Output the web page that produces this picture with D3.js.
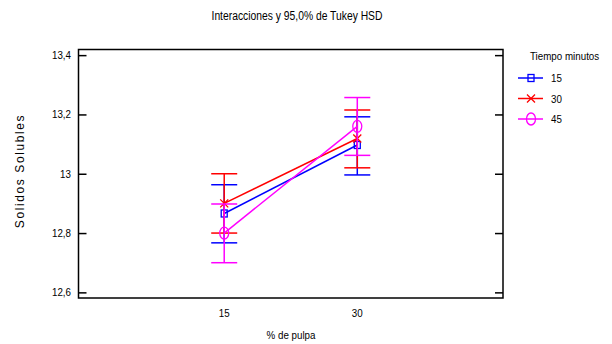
<!DOCTYPE html>
<html>
<head>
<meta charset="utf-8">
<script src="https://cdn.jsdelivr.net/npm/d3@7"></script>
<style>
  html, body { margin: 0; padding: 0; background: #fff; }
  svg { display: block; }
  text { font-family: "Liberation Sans", Arial, sans-serif; fill: #000; }
</style>
</head>
<body>
<svg id="chart" width="612" height="344"></svg>
<script>
// Factor levels and group means with 95% Tukey HSD intervals
const pulpa = ["15", "30"];
const tiempos = ["15", "30", "45"];
const means15 = [12.866, 13.097];
const means30 = [12.900, 13.119];
const means45 = [12.800, 13.160];
const lower15 = [12.767, 12.996];
const upper15 = [12.963, 13.192];
const lower30 = [12.800, 13.020];
const upper30 = [13.000, 13.215];
const lower45 = [12.700, 13.062];
const upper45 = [12.898, 13.257];
const yTicks = [12.6, 12.8, 13.0, 13.2, 13.4];

const series = [
  { name: tiempos[0], mean: means15, lo: lower15, hi: upper15, color: "#0000ff", marker: "square" },
  { name: tiempos[1], mean: means30, lo: lower30, hi: upper30, color: "#ff0000", marker: "cross" },
  { name: tiempos[2], mean: means45, lo: lower45, hi: upper45, color: "#ff00ff", marker: "circle" }
];

const svg = d3.select("#chart");
const plot = { left: 78.5, right: 503, top: 49.5, bottom: 298 };

const x = d3.scalePoint().domain(pulpa).range([plot.left, plot.right]).padding(1.095);
const y = d3.scaleLinear().domain([12.581, 13.419]).range([plot.bottom, plot.top]);

const fmt = d => d3.format(".1f")(d).replace(".", ",").replace(/,0$/, "");

// Condensed lettering: squeeze each label horizontally
function condense(sel, ratio = 0.85) {
  sel.each(function () {
    const len = this.getComputedTextLength();
    d3.select(this).attr("textLength", len * ratio).attr("lengthAdjust", "spacingAndGlyphs");
  });
  return sel;
}

// Title
svg.append("text")
  .attr("x", 297).attr("y", 20)
  .attr("text-anchor", "middle")
  .attr("font-size", 12)
  .text("Interacciones y 95,0% de Tukey HSD")
  .call(condense, 0.86);

// Frame
svg.append("rect")
  .attr("x", plot.left).attr("y", plot.top)
  .attr("width", plot.right - plot.left).attr("height", plot.bottom - plot.top)
  .attr("fill", "none").attr("stroke", "#000").attr("stroke-width", 1.5);

// Y axis ticks on the left and right edges, pointing inward
const leftAxis = d3.axisRight(y).tickValues(yTicks).tickSize(8).tickFormat("");
const rightAxis = d3.axisLeft(y).tickValues(yTicks).tickSize(8).tickFormat("");
[ [leftAxis, plot.left], [rightAxis, plot.right] ].forEach(([ax, xpos]) => {
  const g = svg.append("g").attr("transform", `translate(${xpos},0)`).call(ax);
  g.select(".domain").remove();
  g.selectAll("line").attr("stroke", "#000").attr("stroke-width", 1.5);
});

// Y tick labels
svg.append("g").selectAll("text").data(yTicks).join("text")
  .attr("x", 71).attr("y", d => y(d) + 4)
  .attr("text-anchor", "end")
  .attr("font-size", 11.5)
  .text(fmt)
  .call(condense);

// X tick labels
svg.append("g").selectAll("text").data(pulpa).join("text")
  .attr("x", d => x(d)).attr("y", 317)
  .attr("text-anchor", "middle")
  .attr("font-size", 11.5)
  .text(d => d)
  .call(condense);

// Axis titles
svg.append("text")
  .attr("x", 291).attr("y", 339)
  .attr("text-anchor", "middle")
  .attr("font-size", 11.5)
  .text("% de pulpa")
  .call(condense);

svg.append("text")
  .attr("transform", "translate(24,171) rotate(-90)")
  .attr("text-anchor", "middle")
  .attr("font-size", 12)
  .attr("letter-spacing", 1.6)
  .text("Solidos Solubles");

// Marker drawing
function drawMarker(g, type, cx, cy, color) {
  if (type === "square") {
    g.append("rect").attr("x", cx - 3).attr("y", cy - 3.5).attr("width", 6).attr("height", 7)
      .attr("fill", "none").attr("stroke", color).attr("stroke-width", 1.3);
  } else if (type === "cross") {
    g.append("path").attr("d", `M${cx - 4},${cy - 4}L${cx + 4},${cy + 4}M${cx - 4},${cy + 4}L${cx + 4},${cy - 4}`)
      .attr("stroke", color).attr("stroke-width", 1.3).attr("fill", "none");
  } else {
    g.append("ellipse").attr("cx", cx).attr("cy", cy).attr("rx", 4.5).attr("ry", 6)
      .attr("fill", "none").attr("stroke", color).attr("stroke-width", 1.3);
  }
}

const capHalf = 13;
const line = d3.line().x((d, i) => x(pulpa[i])).y(d => y(d));

series.forEach(s => {
  const g = svg.append("g");
  // Interval bars with caps
  pulpa.forEach((p, i) => {
    const cx = x(p);
    g.append("line").attr("x1", cx).attr("x2", cx).attr("y1", y(s.lo[i])).attr("y2", y(s.hi[i]))
      .attr("stroke", s.color).attr("stroke-width", 1.5);
    [s.lo[i], s.hi[i]].forEach(v => {
      g.append("line").attr("x1", cx - capHalf).attr("x2", cx + capHalf).attr("y1", y(v)).attr("y2", y(v))
        .attr("stroke", s.color).attr("stroke-width", 1.5);
    });
  });
  // Connecting line of means
  g.append("path").datum(s.mean).attr("d", line)
    .attr("fill", "none").attr("stroke", s.color).attr("stroke-width", 1.5);
  // Markers
  pulpa.forEach((p, i) => drawMarker(g, s.marker, x(p), y(s.mean[i]), s.color));
});

// Legend
const legend = svg.append("g");
legend.append("text")
  .attr("x", 530).attr("y", 60)
  .attr("font-size", 11.5)
  .text("Tiempo minutos")
  .call(condense);
series.forEach((s, i) => {
  const ly = 78 + i * 20.5;
  legend.append("line").attr("x1", 518).attr("x2", 543).attr("y1", ly).attr("y2", ly)
    .attr("stroke", s.color).attr("stroke-width", 1.5);
  drawMarker(legend, s.marker, 531, ly, s.color);
  legend.append("text")
    .attr("x", 551).attr("y", ly + 4)
    .attr("font-size", 11.5)
    .text(s.name)
    .call(condense);
});
</script>
</body>
</html>
